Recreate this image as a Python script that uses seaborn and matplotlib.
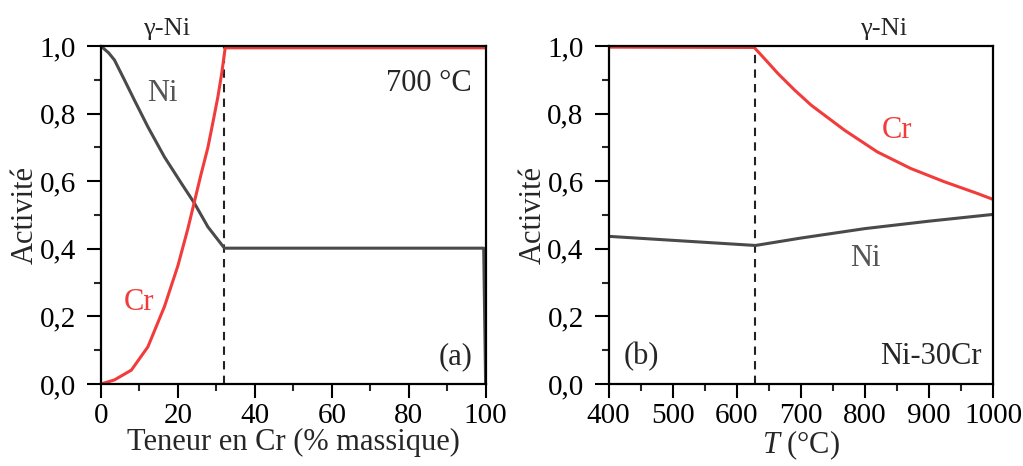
import numpy as np
import pandas as pd
import matplotlib
matplotlib.use('Agg')
import matplotlib.pyplot as plt
import matplotlib.ticker as mticker
import seaborn as sns

# (a) activity vs Cr content at 700 C
cr_content = [0, 3.5, 7.9, 12.2, 16.5, 20, 22.6, 24.3, 26, 27.8, 29.2, 30.4, 31.4, 32.3, 100]
cr_act_a = [0.0, 0.012, 0.041, 0.11, 0.229, 0.35, 0.46, 0.54, 0.62, 0.70, 0.78, 0.85, 0.92, 0.995, 0.995]
ni_content = [0, 0.5, 2, 3.5, 6.1, 8.7, 12.2, 16.5, 20.9, 24.3, 27.8, 32.1, 99.5, 100]
ni_act_a = [1.0, 0.995, 0.980, 0.959, 0.90, 0.84, 0.761, 0.672, 0.594, 0.535, 0.465, 0.402, 0.402, 0.0]
limit_a = 32

# (b) activity vs temperature, Ni-30Cr
temp_cr = [400, 627, 643, 664, 690, 716, 768, 819, 871, 923, 975, 1000]
cr_act_b = [0.997, 0.996, 0.963, 0.919, 0.870, 0.825, 0.751, 0.687, 0.638, 0.599, 0.564, 0.546]
temp_ni = [400, 629, 700, 800, 900, 1000]
ni_act_b = [0.437, 0.410, 0.432, 0.460, 0.482, 0.502]
limit_b = 629

red = '#f23c3c'
grey = '#4a4a4a'

sns.set_style('ticks')
plt.rcParams['font.family'] = ['Liberation Serif', 'DejaVu Serif']
plt.rcParams['mathtext.fontset'] = 'custom'
plt.rcParams['mathtext.rm'] = 'Liberation Serif'
plt.rcParams['mathtext.it'] = 'Liberation Serif:italic'

fig = plt.figure(figsize=(10.23, 4.66), dpi=100)
ax1 = fig.add_axes([0.0987, 0.176, 0.376, 0.725])
ax2 = fig.add_axes([0.595, 0.176, 0.376, 0.725])

df_a_cr = pd.DataFrame({'x': cr_content, 'a': cr_act_a})
df_a_ni = pd.DataFrame({'x': ni_content, 'a': ni_act_a})
df_b_cr = pd.DataFrame({'x': temp_cr, 'a': cr_act_b})
df_b_ni = pd.DataFrame({'x': temp_ni, 'a': ni_act_b})

sns.lineplot(data=df_a_ni, x='x', y='a', ax=ax1, color=grey, lw=2.2, sort=False)
sns.lineplot(data=df_a_cr, x='x', y='a', ax=ax1, color=red, lw=2.2, sort=False)
sns.lineplot(data=df_b_ni, x='x', y='a', ax=ax2, color=grey, lw=2.2, sort=False)
sns.lineplot(data=df_b_cr, x='x', y='a', ax=ax2, color=red, lw=2.2, sort=False)

ax1.axvline(limit_a, color='#222222', ls=(0, (4, 3)), lw=1.5, zorder=1)
ax2.axvline(limit_b, color='#222222', ls=(0, (4, 3)), lw=1.5, zorder=1)

ax1.set_xlim(0, 100)
ax2.set_xlim(400, 1000)
for ax in (ax1, ax2):
    ax.set_ylim(0, 1.0)
    ax.yaxis.set_major_locator(mticker.MultipleLocator(0.2))
    ax.yaxis.set_minor_locator(mticker.MultipleLocator(0.1))
    ax.yaxis.set_major_formatter(mticker.FuncFormatter(lambda v, p: f'{v:.1f}'.replace('.', ',')))
    ax.tick_params(which='major', direction='out', length=10, width=1.5, labelsize=21, colors='black')
    ax.tick_params(axis='y', which='major', pad=8)
    ax.tick_params(axis='x', which='major', pad=4)
    ax.tick_params(which='minor', direction='out', length=5, width=1.5)
    for s in ax.spines.values():
        s.set_linewidth(1.6)
        s.set_color('black')
    ax.set_ylabel('Activité', fontsize=22, labelpad=0)
ax1.xaxis.set_major_locator(mticker.MultipleLocator(20))
ax1.xaxis.set_minor_locator(mticker.MultipleLocator(10))
ax2.xaxis.set_major_locator(mticker.MultipleLocator(100))
ax2.xaxis.set_minor_locator(mticker.MultipleLocator(50))

ax1.set_xlabel('Teneur en Cr (% massique)', fontsize=22, labelpad=-1)
ax2.set_xlabel('$T$ (°C)', fontsize=22, labelpad=-1)

# annotations
ax1.text(16, 0.86, 'Ni', color='#555555', fontsize=22, ha='center', va='center')
ax1.text(10, 0.24, 'Cr', color=red, fontsize=22, ha='center', va='center')
ax1.text(0.965, 0.89, '700 °C', transform=ax1.transAxes, fontsize=22, ha='right', va='center')
ax1.text(0.965, 0.08, '(a)', transform=ax1.transAxes, fontsize=22, ha='right', va='center')
ax1.text(0.17, 1.05, 'γ-Ni', transform=ax1.transAxes, fontsize=19, ha='center', va='center')

ax2.text(849, 0.75, 'Cr', color=red, fontsize=22, ha='center', va='center')
ax2.text(800, 0.37, 'Ni', color='#555555', fontsize=22, ha='center', va='center')
ax2.text(0.04, 0.08, '(b)', transform=ax2.transAxes, fontsize=22, ha='left', va='center')
ax2.text(0.97, 0.08, 'Ni-30Cr', transform=ax2.transAxes, fontsize=22, ha='right', va='center')
ax2.text(0.715, 1.05, 'γ-Ni', transform=ax2.transAxes, fontsize=19, ha='center', va='center')

fig.savefig('out.png', dpi=100)
